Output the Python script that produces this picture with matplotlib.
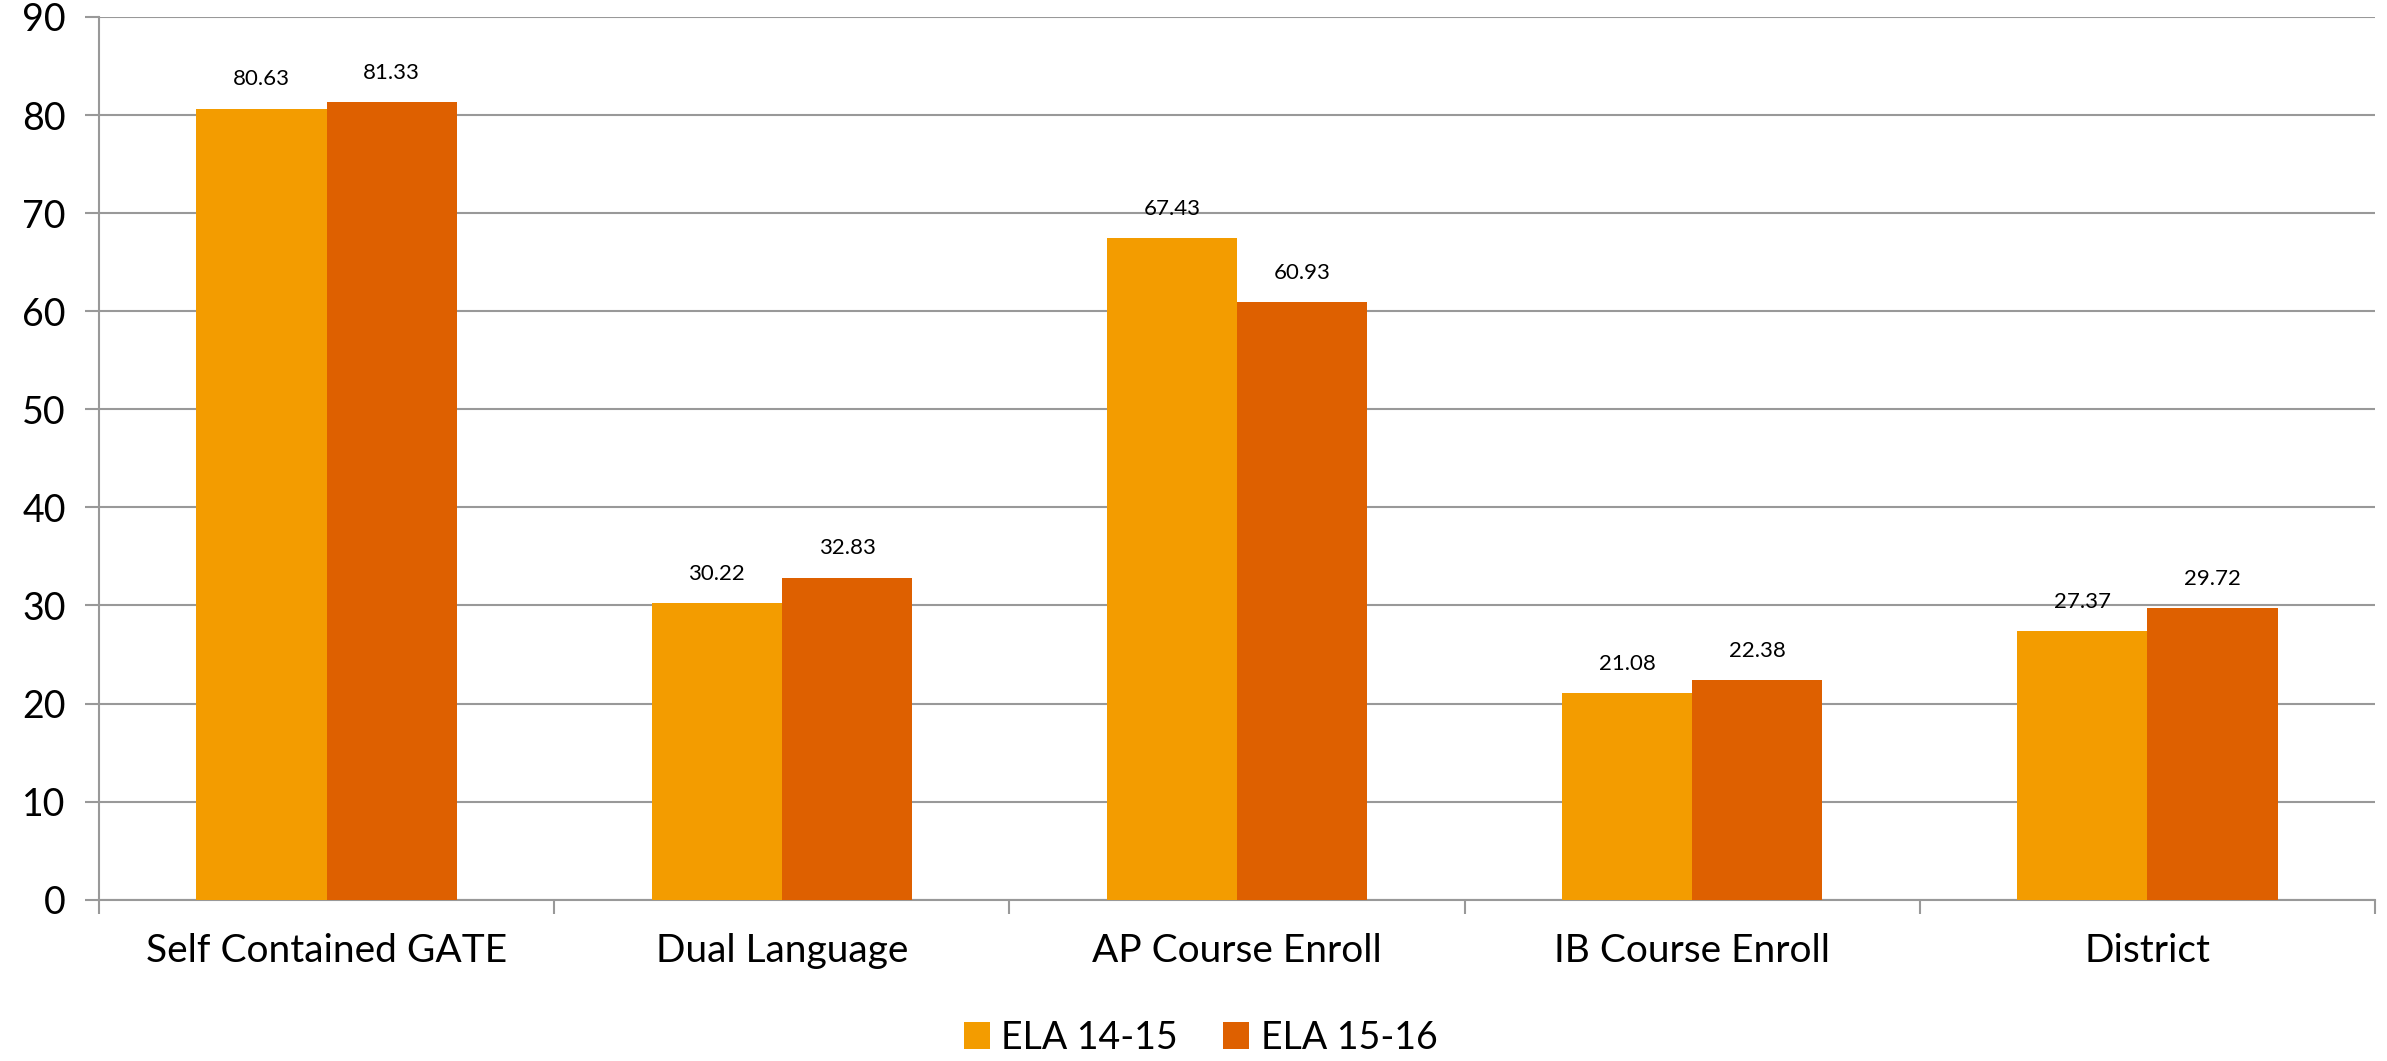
import matplotlib
matplotlib.use('Agg')
import matplotlib.pyplot as plt
import numpy as np

# data
categories = ['Self Contained GATE', 'Dual Language', 'AP Course Enroll', 'IB Course Enroll', 'District']
ela_1415 = [80.63, 30.22, 67.43, 21.08, 27.37]
ela_1516 = [81.33, 32.83, 60.93, 22.38, 29.72]
series_labels = ['ELA 14-15', 'ELA 15-16']

plt.rcParams['font.family'] = ['Lato', 'DejaVu Sans']

fig = plt.figure(figsize=(23.87, 10.61), dpi=100)
ax = fig.add_axes([0.0415, 0.152, 0.9535, 0.832])

x = np.arange(len(categories))
w = 0.286
c1, c2 = '#F39C00', '#DE6000'
b1 = ax.bar(x - w / 2, ela_1415, w, color=c1, label=series_labels[0], zorder=3)
b2 = ax.bar(x + w / 2, ela_1516, w, color=c2, label=series_labels[1], zorder=3)

for bars in (b1, b2):
    for rect in bars:
        h = rect.get_height()
        ax.annotate(f'{h:.2f}', (rect.get_x() + rect.get_width() / 2, h),
                    xytext=(0, 14), textcoords='offset points',
                    ha='center', va='bottom', fontsize=16)

ax.set_xlim(-0.5, len(categories) - 0.5)
ax.set_ylim(0, 90)
ax.set_yticks(range(0, 91, 10))
ax.tick_params(axis='y', labelsize=27, length=10, color='#999999', width=1.5, pad=14)
ax.yaxis.grid(True, color='#999999', linewidth=1.5, zorder=0)

# boundaries as major ticks, labels on minor ticks
ax.set_xticks(np.arange(-0.5, len(categories), 1.0))
ax.set_xticklabels([])
ax.tick_params(axis='x', which='major', length=10, color='#999999', width=1.5)
ax.set_xticks(x, minor=True)
ax.set_xticklabels(categories, minor=True)
ax.tick_params(axis='x', which='minor', length=0, labelsize=28, pad=24)

for s in ('top', 'right'):
    ax.spines[s].set_visible(False)
for s in ('left', 'bottom'):
    ax.spines[s].set_color('#999999')
    ax.spines[s].set_linewidth(1.5)

fig.legend(handles=[b1, b2], loc='center', bbox_to_anchor=(0.503, 0.022),
           ncol=2, frameon=False, fontsize=27, handlelength=0.7, handleheight=0.7,
           handletextpad=0.3, columnspacing=1.2)

fig.savefig('out.png', dpi=100)
